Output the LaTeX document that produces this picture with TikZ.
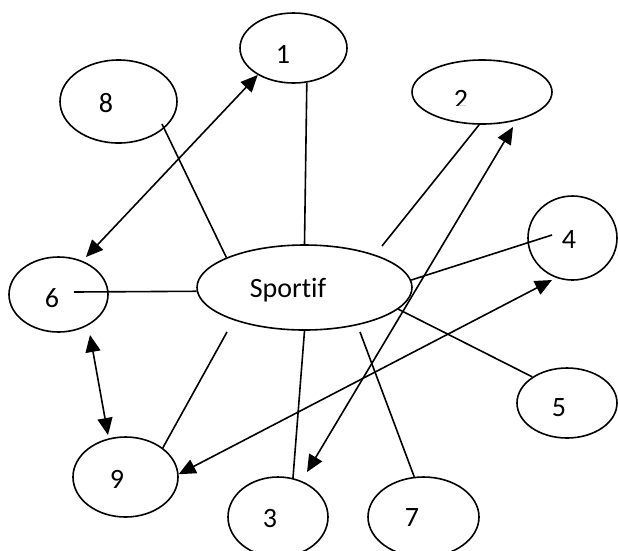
\documentclass[tikz,border=0pt]{standalone}
\usepackage{fontspec}
\setmainfont{Carlito}[Ligatures=NoCommon]
\usetikzlibrary{arrows.meta,shapes.geometric}

\begin{document}
\begin{tikzpicture}[x=1pt,y=-1pt,line width=1.6pt,>={Triangle[length=17pt,width=15pt]},
 bub/.style={draw,ellipse,inner sep=0pt},
 txt/.style={inner sep=0pt,font=\fontsize{28}{34}\selectfont}]
 \clip (0,0) rectangle (618,550);
 \fill[white] (0,0) rectangle (618,550);
 % bubbles
 \node[bub,minimum width=215,minimum height=85] (sp) at (304.5,287.5) {};
 \node[bub,minimum width=107,minimum height=70] (n1) at (293.5,48) {};
 \node[bub,minimum width=140,minimum height=64] (n2) at (482,92) {};
 \node[bub,minimum width=100,minimum height=80] (n3) at (278,517) {};
 \node[bub,minimum width=89,minimum height=84] (n4) at (572.5,238) {};
 \node[bub,minimum width=100,minimum height=70] (n5) at (567,403) {};
 \node[bub,minimum width=99,minimum height=75] (n6) at (58.5,294.5) {};
 \node[bub,minimum width=111,minimum height=80] (n7) at (423.5,517) {};
 \node[bub,minimum width=117,minimum height=83] (n8) at (118.5,101.5) {};
 \node[bub,minimum width=105,minimum height=80] (n9) at (125.5,477) {};
 % texts
 \node[txt] (tsp) at (288,290) {Sportif};
 \node[txt] (t1) at (283,54) {1};
 \begin{scope}
  \clip (430,70) rectangle (500,105);
  \node[txt] (t2) at (461,99.5) {2};
 \end{scope}
 \node[txt] (t3) at (270,518) {3};
 \node[txt] (t4) at (569,240) {4};
 \node[txt] (t5) at (559,408) {5};
 \node[txt] (t6) at (52,298) {6};
 \node[txt] (t7) at (412,518) {7};
 \node[txt] (t8) at (106,103) {8};
 \node[txt] (t9) at (117,479) {9};
 % free ends
 \coordinate (c8) at (162,124);
 \coordinate (c6a) at (86,257);
 \coordinate (c2) at (382,246);
 \coordinate (c3a) at (307,472);
 \coordinate (c2a) at (513,127);
 \coordinate (c4) at (552,235);
 \coordinate (c6) at (74,292);
 \coordinate (c6b) at (90,335);
 \coordinate (c9a) at (108,435);
 \coordinate (c9) at (227,332);
 \coordinate (c4a) at (552,280);
 \coordinate (c7) at (360,332);
 % links
 \draw (c8) -- (sp.159);
 \draw[<->] (n1.217) -- (c6a);
 \draw (n1.-69) -- (sp.90);
 \draw (n2.-95) -- (c2);
 \draw[<->] (c3a) -- (c2a);
 \draw (sp.4) -- (c4);
 \draw (c6) -- (sp.182.5);
 \draw[<->] (c6b) -- (c9a);
 \draw (c9) -- (n9.38);
 \draw (sp.270) -- (n3.69);
 \draw[<->] (n9.3) -- (c4a);
 \draw (sp.-13) -- (n5.143);
 \draw (c7) -- (n7.103);
\end{tikzpicture}
\end{document}
